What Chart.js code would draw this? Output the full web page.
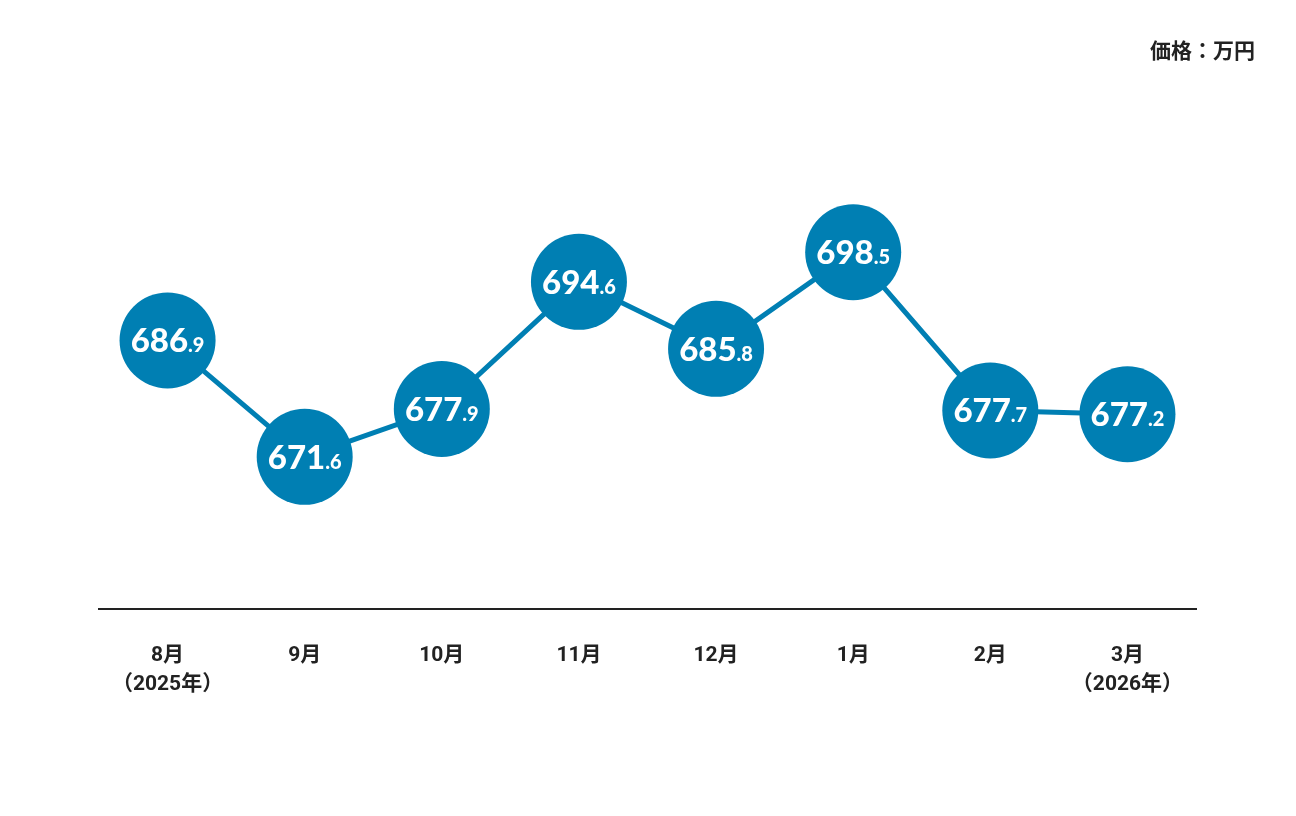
<!DOCTYPE html>
<html lang="ja">
<head>
<meta charset="utf-8">
<title>価格推移</title>
<script src="https://cdn.jsdelivr.net/npm/chart.js@4.4.1/dist/chart.umd.min.js"></script>
<style>
  html, body { margin: 0; padding: 0; background: #fff; }
  #wrap { position: relative; width: 1296px; height: 816px; }
  #unit {
    position: absolute; right: 41px; top: 34px;
    font: bold 21px Roboto, "Noto Sans CJK JP", sans-serif; color: #222;
  }
</style>
</head>
<body>
<div id="wrap">
  <canvas id="price-chart" width="1296" height="816"></canvas>
  <div id="unit">価格：万円</div>
</div>
<script>
// データ
const months = [
  ['8月', '（2025年）'], '9月', '10月', '11月', '12月', '1月', '2月', ['3月', '（2026年）']
];
const prices = [686.9, 671.6, 677.9, 694.6, 685.8, 698.5, 677.7, 677.2];

const BLUE = '#007fb3';

// 円の中に値を描く（整数部は大きく、小数部は小さく）
const bubbleLabels = {
  id: 'bubbleLabels',
  afterDatasetsDraw(chart) {
    const ctx = chart.ctx;
    const meta = chart.getDatasetMeta(0);
    ctx.save();
    ctx.fillStyle = '#fff';
    ctx.textBaseline = 'alphabetic';
    meta.data.forEach((pt, i) => {
      const parts = prices[i].toFixed(1).split('.');
      const big = parts[0];
      const small = '.' + parts[1];
      const bigFont = '900 33px Lato, sans-serif';
      const smallFont = '900 20px Lato, sans-serif';
      ctx.font = bigFont;
      const wb = ctx.measureText(big).width;
      ctx.font = smallFont;
      const ws = ctx.measureText(small).width;
      const x0 = pt.x - (wb + ws) / 2;
      const y = pt.y + 12;
      ctx.textAlign = 'left';
      ctx.font = bigFont;
      ctx.fillText(big, x0, y);
      ctx.font = smallFont;
      ctx.fillText(small, x0 + wb, y);
    });
    ctx.restore();
  }
};

new Chart(document.getElementById('price-chart'), {
  type: 'line',
  data: {
    labels: months,
    datasets: [{
      data: prices,
      borderColor: BLUE,
      borderWidth: 5,
      backgroundColor: BLUE,
      pointBackgroundColor: BLUE,
      pointBorderWidth: 0,
      pointRadius: 48,
      pointHoverRadius: 48,
      tension: 0
    }]
  },
  options: {
    responsive: false,
    animation: false,
    layout: { padding: { left: 99, right: 100, top: 100, bottom: 0 } },
    plugins: {
      legend: { display: false },
      tooltip: { enabled: false }
    },
    scales: {
      x: {
        offset: true,
        afterFit(scale) { scale.height = 207; },
        grid: { display: false, drawTicks: false },
        border: { display: true, color: '#222', width: 2 },
        ticks: {
          padding: 32,
          color: '#222',
          maxRotation: 0,
          autoSkip: false,
          font: { family: 'Roboto, "Noto Sans CJK JP", sans-serif', size: 21, weight: 'bold', lineHeight: 1.38 }
        }
      },
      y: {
        display: false,
        min: 651.6,
        max: 718.5
      }
    }
  },
  plugins: [bubbleLabels]
});
</script>
</body>
</html>
